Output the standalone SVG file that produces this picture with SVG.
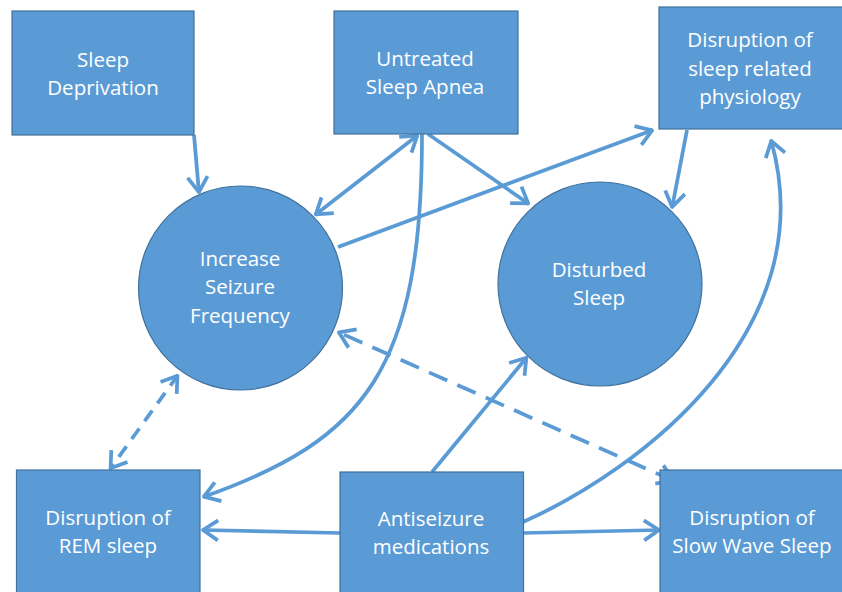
<svg xmlns="http://www.w3.org/2000/svg" width="842" height="592" viewBox="0 0 842 592">
<defs>
<style>
.box{fill:#5B9BD5;stroke:#41719C;stroke-width:1.2}
.lbl{fill:#FFFFFF;font-family:"Open Sans","Liberation Sans",sans-serif;font-size:20.5px;text-anchor:middle}
.c{fill:none;stroke:#5B9BD5;stroke-width:3.75}
.d1{stroke-dasharray:13 9}
.d2{stroke-dasharray:20 11}
</style>
<marker id="ah" viewBox="-20 -13 24 26" refX="0" refY="0" markerWidth="24" markerHeight="26" markerUnits="userSpaceOnUse" orient="auto-start-reverse" overflow="visible">
<path d="M-16,-10 L-1,0 L-16,10" fill="none" stroke="#5B9BD5" stroke-width="3.75" stroke-linejoin="round"/>
</marker>
</defs>
<rect width="842" height="592" fill="#FFFFFF"/>
<g id="connectors">
<path class="c" d="M194,135 L199,193" marker-end="url(#ah)"/>
<path class="c" d="M418,135 L315,215" marker-start="url(#ah)" marker-end="url(#ah)"/>
<path class="c" d="M428,134 L529,204" marker-end="url(#ah)"/>
<path class="c" d="M338,247 L653,130" marker-end="url(#ah)"/>
<path class="c" d="M687,130 L672,208" marker-end="url(#ah)"/>
<path class="c" d="M422,134 C422,370 365,440 203,497" marker-end="url(#ah)"/>
<path class="c" d="M523,522 C640,470 825,330 771,140" marker-end="url(#ah)"/>
<path class="c" d="M432,472 L527,357" marker-end="url(#ah)"/>
<path class="c" d="M340,533 L202,530" marker-end="url(#ah)"/>
<path class="c" d="M523,533 L660,530" marker-end="url(#ah)"/>
<path class="c d1" d="M178,375 L110,469" marker-start="url(#ah)" marker-end="url(#ah)"/>
<path class="c d2" d="M674,481 L338,332" marker-start="url(#ah)" marker-end="url(#ah)"/>
</g>
<g id="sleep-deprivation">
<rect class="box" x="12" y="11" width="182" height="124"/>
<text class="lbl" x="103" y="67">Sleep</text>
<text class="lbl" x="103" y="95">Deprivation</text>
</g>
<g id="untreated-sleep-apnea">
<rect class="box" x="334" y="11" width="184" height="123"/>
<text class="lbl" x="425" y="66">Untreated</text>
<text class="lbl" x="425" y="94">Sleep Apnea</text>
</g>
<g id="disruption-physiology">
<rect class="box" x="659" y="7" width="190" height="122"/>
<text class="lbl" x="750" y="47">Disruption of</text>
<text class="lbl" x="750" y="76">sleep related</text>
<text class="lbl" x="750" y="104">physiology</text>
</g>
<g id="increase-seizure-frequency">
<circle class="box" cx="240.5" cy="288" r="102"/>
<text class="lbl" x="240" y="266">Increase</text>
<text class="lbl" x="240" y="294">Seizure</text>
<text class="lbl" x="240" y="323">Frequency</text>
</g>
<g id="disturbed-sleep">
<circle class="box" cx="600" cy="284" r="102"/>
<text class="lbl" x="599" y="277">Disturbed</text>
<text class="lbl" x="599" y="305">Sleep</text>
</g>
<g id="disruption-rem">
<rect class="box" x="16.5" y="470" width="183.5" height="130"/>
<text class="lbl" x="108" y="525">Disruption of</text>
<text class="lbl" x="108" y="553">REM sleep</text>
</g>
<g id="antiseizure-medications">
<rect class="box" x="340" y="472" width="183.5" height="130"/>
<text class="lbl" x="431" y="526">Antiseizure</text>
<text class="lbl" x="431" y="554">medications</text>
</g>
<g id="disruption-sws">
<rect class="box" x="660" y="470" width="190" height="130"/>
<text class="lbl" x="752" y="525">Disruption of</text>
<text class="lbl" x="752" y="553">Slow Wave Sleep</text>
</g>
</svg>
